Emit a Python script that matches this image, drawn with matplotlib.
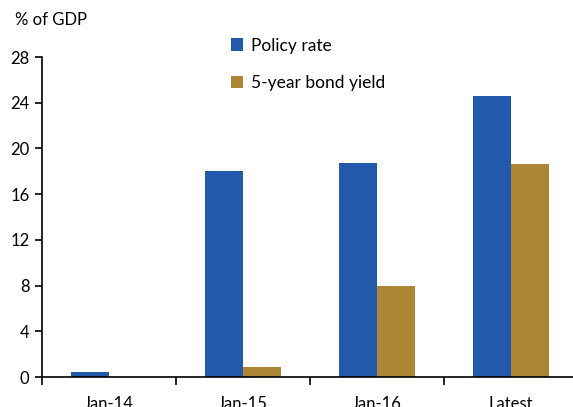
import matplotlib.pyplot as plt
import numpy as np

categories = ["Jan-14", "Jan-15", "Jan-16", "Latest"]
policy_rate = [0.4, 18.0, 18.7, 24.6]
bond_yield = [0.0, 0.9, 8.0, 18.6]
yticks = [0, 4, 8, 12, 16, 20, 24, 28]

plt.rcParams['font.family'] = ['Lato', 'DejaVu Sans']
fig = plt.figure(figsize=(5.73, 4.07), dpi=100)
ax = fig.add_axes([42/573, 30/407, 536/573, 320/407])

x = np.arange(len(categories))
w = 0.283
ax.bar(x - w/2, policy_rate, w, color='#2259AA', label='Policy rate')
ax.bar(x + w/2, bond_yield, w, color='#AC8535', label='5-year bond yield')

ax.set_xlim(-0.5, len(categories) - 0.5)
ax.set_ylim(0, 28)
ax.set_yticks(yticks)
ax.tick_params(axis='y', labelsize=12, length=5, width=1.2, direction='out', pad=4)
ax.set_xticks(np.arange(len(categories) + 1) - 0.5)
ax.set_xticklabels([])
ax.set_xticks(x, minor=True)
ax.set_xticklabels(categories, minor=True)
ax.tick_params(axis='x', which='major', length=6, width=1.2, direction='out')
ax.tick_params(axis='x', which='minor', length=0, labelsize=12, pad=14)
for s in ['top', 'right']:
    ax.spines[s].set_visible(False)
for s in ['left', 'bottom']:
    ax.spines[s].set_linewidth(1.2)

fig.text(15/573, 1 - 20/407, "% of GDP", fontsize=12, va='center', ha='left')
ax.legend(loc='upper left', bbox_to_anchor=(215/573, 1 - 22/407), bbox_transform=fig.transFigure,
          frameon=False, fontsize=12.5, handlelength=0.7, handleheight=0.7, handletextpad=0.5,
          labelspacing=1.25)

fig.savefig("out.png", dpi=100)
